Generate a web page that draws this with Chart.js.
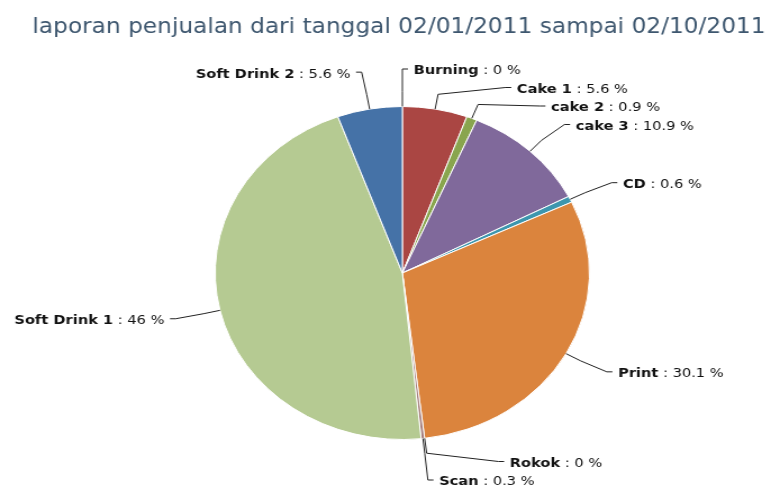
<!DOCTYPE html>
<html>
<head>
<meta charset="utf-8">
<script src="https://cdn.jsdelivr.net/npm/chart.js@4/dist/chart.umd.min.js"></script>
<style>
  body { margin: 0; background: #fff; }
  #pie-chart { display: block; }
</style>
</head>
<body>
<canvas id="pie-chart" width="686" height="488" style="width: 771px; height: 488px;"></canvas>
<script>
const titleText = 'laporan penjualan dari tanggal 02/01/2011 sampai 02/10/2011';
const categories = ['Burning', 'Cake 1', 'cake 2', 'cake 3', 'CD', 'Print', 'Rokok', 'Scan', 'Soft Drink 1', 'Soft Drink 2'];
const percentValues = [0, 5.6, 0.9, 10.9, 0.6, 30.1, 0, 0.3, 46, 5.6];
const sliceColors = ['#4572A7', '#AA4643', '#89A54E', '#80699B', '#3D96AE', '#DB843D', '#92A8CD', '#A47D7C', '#B5CA92', '#4572A7'];

// label settings (highcharts-like connectors)
const labelDistanceY = 37.5;
const labelDistanceX = 40.5;
const connectorOffset = 15;
const labelGap = 18.5;

const chartTitle = {
    id: 'chartTitle',
    afterDraw(chart) {
        const ctx = chart.ctx;
        ctx.save();
        ctx.font = '20.7px "DejaVu Sans"';
        ctx.fillStyle = '#3E576F';
        ctx.textAlign = 'center';
        ctx.textBaseline = 'middle';
        ctx.fillText(titleText, 355, 28);
        ctx.restore();
    }
};

const pieLabels = {
    id: 'pieLabels',
    afterDatasetsDraw(chart) {
        const ctx = chart.ctx;
        const arcs = chart.getDatasetMeta(0).data;
        const items = arcs.map((arc, i) => {
            const mid = (arc.startAngle + arc.endAngle) / 2;
            return {
                i: i,
                mid: mid,
                cx: arc.x,
                cy: arc.y,
                r: arc.outerRadius,
                right: Math.cos(mid) >= -1e-9,
                ny: arc.y + Math.sin(mid) * (arc.outerRadius + labelDistanceY)
            };
        });

        [true, false].forEach(side => {
            const group = items.filter(it => it.right === side).sort((a, b) => a.ny - b.ny);
            let prev = -Infinity;
            group.forEach(it => {
                it.y = Math.max(it.ny, prev + labelGap);
                prev = it.y;
            });
            let next = chart.height - 8;
            for (let k = group.length - 1; k >= 0; k--) {
                group[k].y = Math.min(group[k].y, next);
                next = group[k].y - labelGap;
            }
            group.forEach((it, k) => {
                const R = it.r + labelDistanceX;
                if (k === 0 || k === group.length - 1) {
                    it.x = it.cx + Math.cos(it.mid) * R;
                } else {
                    const dy = it.y - it.cy;
                    const dx = Math.sqrt(Math.max(R * R - dy * dy, 0));
                    it.x = it.cx + (side ? dx : -dx);
                }
            });
        });

        ctx.save();
        items.forEach(it => {
            const dir = it.right ? 1 : -1;
            const c = Math.cos(it.mid), s = Math.sin(it.mid);
            ctx.beginPath();
            ctx.moveTo(it.x + dir * 5, it.y);
            ctx.lineTo(it.x, it.y);
            ctx.lineTo(it.cx + (it.r + connectorOffset) * c, it.cy + (it.r + connectorOffset) * s);
            ctx.lineTo(it.cx + it.r * c, it.cy + it.r * s);
            ctx.strokeStyle = '#222';
            ctx.lineWidth = 1;
            ctx.stroke();

            const name = categories[it.i];
            const rest = ' : ' + percentValues[it.i] + ' %';
            ctx.textBaseline = 'middle';
            ctx.textAlign = 'left';
            ctx.fillStyle = '#111';
            ctx.font = 'bold 13px "DejaVu Sans"';
            const wName = ctx.measureText(name).width;
            ctx.font = '13px "DejaVu Sans"';
            const wRest = ctx.measureText(rest).width;
            const tx = it.right ? it.x + 10 : it.x - 10 - wName - wRest;
            const ty = it.y + 2;
            ctx.font = 'bold 13px "DejaVu Sans"';
            ctx.fillText(name, tx, ty);
            ctx.font = '13px "DejaVu Sans"';
            ctx.fillText(rest, tx + wName, ty);
        });
        ctx.restore();
    }
};

document.addEventListener('DOMContentLoaded', function () {
    const ctx = document.getElementById('pie-chart').getContext('2d');
    new Chart(ctx, {
        type: 'pie',
        data: {
            labels: categories,
            datasets: [{
                data: percentValues,
                backgroundColor: sliceColors,
                borderColor: '#ffffff',
                borderWidth: 1,
                hoverOffset: 0
            }]
        },
        options: {
            responsive: false,
            animation: false,
            devicePixelRatio: 1,
            events: [],
            layout: {
                padding: { top: 106, bottom: 48, left: 191, right: 161 }
            },
            plugins: {
                legend: { display: false },
                tooltip: { enabled: false },
                title: { display: false }
            }
        },
        plugins: [pieLabels, chartTitle]
    });
});
</script>
</body>
</html>
